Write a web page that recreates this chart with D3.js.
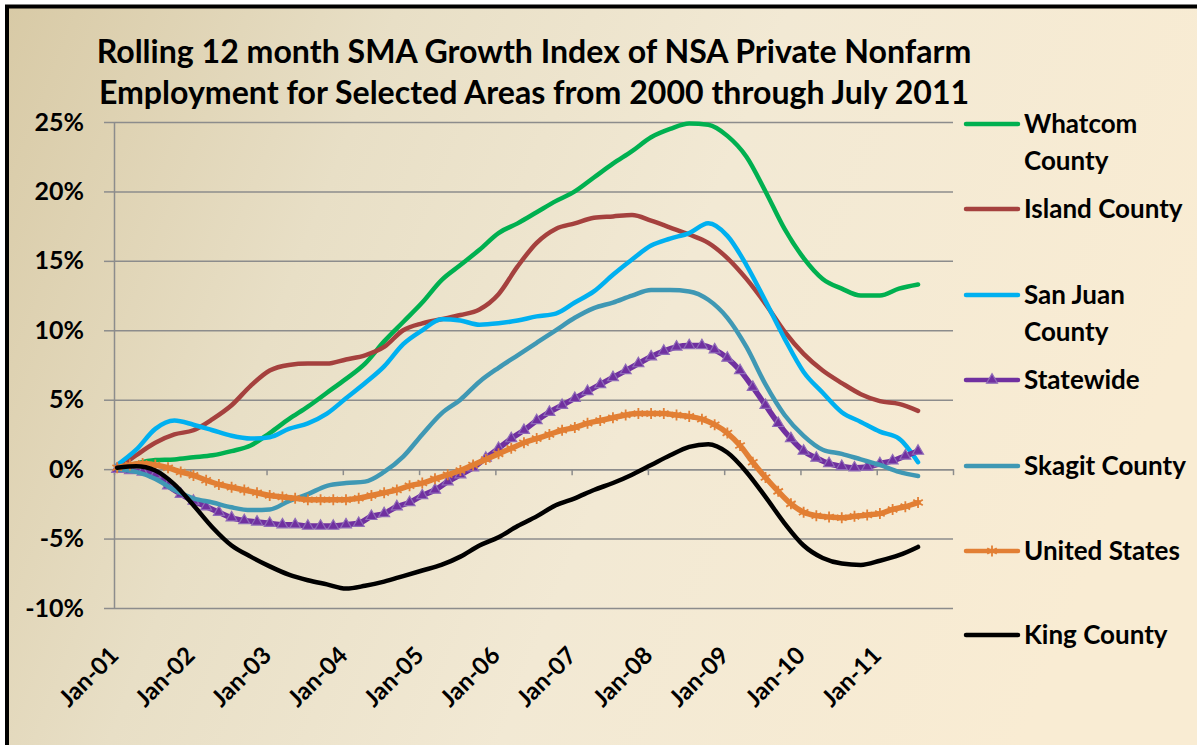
<!DOCTYPE html>
<html>
<head>
<meta charset="utf-8">
<script src="https://cdn.jsdelivr.net/npm/d3@7"></script>
<style>
  html, body { margin: 0; padding: 0; background: #fff; }
  #vis svg { display: block; }
</style>
</head>
<body>
<div id="vis"></div>
<script>
// months counted from Jan-01; plain lines read every quarter, marker lines every 2 months
var monthsQ = [0,3,6,9,12,15,18,21,24,27,30,33,36,39,42,45,48,51,54,57,60,63,66,69,72,75,78,81,84,87,90,93,96,99,102,105,108,111,114,117,120,123,126];
var monthsB = [0,2,4,6,8,10,12,14,16,18,20,22,24,26,28,30,32,34,36,38,40,42,44,46,48,50,52,54,56,58,60,62,64,66,68,70,72,74,76,78,80,82,84,86,88,90,92,94,96,98,100,102,104,106,108,110,112,114,116,118,120,122,124,126];

var whatcom = [0,0.4,0.65,0.7,0.85,1.0,1.3,1.7,2.6,3.6,4.5,5.5,6.5,7.6,9.2,10.6,12.0,13.6,14.7,15.8,17.0,17.7,18.5,19.3,20.0,21.0,22.0,22.9,23.9,24.5,24.9,24.8,24.0,22.5,20.0,17.3,15.2,13.7,13.0,12.5,12.5,13.0,13.3];
var island = [0,1.0,1.9,2.5,2.8,3.6,4.6,6.0,7.1,7.5,7.6,7.6,7.9,8.2,8.8,10.0,10.5,10.8,11.1,11.5,12.6,14.6,16.3,17.3,17.7,18.1,18.2,18.3,17.9,17.4,16.9,16.3,15.2,13.7,11.9,9.9,8.3,7.1,6.2,5.4,4.9,4.7,4.2];
var sanJuan = [0.3,1.4,2.9,3.5,3.2,2.8,2.4,2.2,2.3,2.9,3.3,4.0,5.1,6.2,7.4,9.0,10.0,10.8,10.7,10.4,10.5,10.7,11.0,11.2,12.0,12.8,14.0,15.1,16.1,16.6,17.0,17.7,16.8,14.7,12.1,9.4,7.0,5.5,4.1,3.4,2.7,2.2,0.5];
var skagit = [0,-0.2,-0.7,-1.5,-2.1,-2.4,-2.75,-2.95,-2.9,-2.3,-1.8,-1.2,-1.0,-0.9,-0.2,0.9,2.5,4.0,5.0,6.3,7.3,8.2,9.1,10.0,10.9,11.6,12.0,12.5,12.9,12.9,12.8,12.2,10.9,8.8,6.1,3.9,2.4,1.4,1.1,0.7,0.3,-0.2,-0.5];
var king = [0.1,0.2,-0.1,-1.1,-2.6,-4.2,-5.5,-6.3,-7.0,-7.6,-8.0,-8.3,-8.6,-8.4,-8.1,-7.7,-7.3,-6.9,-6.3,-5.5,-4.9,-4.1,-3.4,-2.6,-2.1,-1.5,-1.0,-0.4,0.3,1.0,1.6,1.8,1.2,-0.2,-2.0,-3.9,-5.5,-6.4,-6.8,-6.9,-6.6,-6.2,-5.6];
var statewide = [0,-0.1,-0.2,-0.4,-1.2,-1.8,-2.3,-2.7,-3.1,-3.5,-3.7,-3.8,-3.9,-4.0,-4.0,-4.1,-4.1,-4.1,-4.0,-3.9,-3.4,-3.2,-2.7,-2.4,-1.9,-1.5,-0.9,-0.4,0.1,0.8,1.5,2.2,2.8,3.5,4.1,4.6,5.1,5.6,6.1,6.6,7.1,7.6,8.1,8.5,8.8,8.9,8.9,8.6,8.0,7.1,5.9,4.6,3.3,2.2,1.3,0.8,0.4,0.2,0.1,0.15,0.4,0.6,0.95,1.3];
var unitedStates = [0.1,0.3,0.4,0.3,0.1,-0.2,-0.45,-0.8,-1.1,-1.3,-1.5,-1.7,-1.9,-2.0,-2.1,-2.2,-2.2,-2.2,-2.2,-2.1,-1.9,-1.7,-1.5,-1.2,-1.0,-0.7,-0.4,-0.1,0.3,0.7,1.1,1.5,1.9,2.2,2.5,2.8,3.0,3.3,3.5,3.7,3.9,4.0,4.0,4.0,3.9,3.8,3.6,3.2,2.6,1.7,0.5,-0.6,-1.6,-2.5,-3.1,-3.35,-3.45,-3.5,-3.4,-3.3,-3.2,-2.9,-2.7,-2.4];

var yTicks = [25, 20, 15, 10, 5, 0, -5, -10];
var yearTicks = [0,12,24,36,48,60,72,84,96,108,120,132];
var yearLabels = ["Jan-01","Jan-02","Jan-03","Jan-04","Jan-05","Jan-06","Jan-07","Jan-08","Jan-09","Jan-10","Jan-11"];
var titleLines = ["Rolling 12 month SMA Growth Index of NSA Private Nonfarm",
                  "Employment for Selected Areas from 2000 through July 2011"];

function draw() {
  var width = 1197, height = 745;
  var font = "Lato, 'Open Sans', sans-serif";

  // drawing order follows the legend, King County ends up on top
  var series = [
    {"name": ["Whatcom", "County"], "months": monthsQ, "values": whatcom, "color": "#00b050", "ly": 124},
    {"name": ["Island County"], "months": monthsQ, "values": island, "color": "#a5413e", "ly": 209},
    {"name": ["San Juan", "County"], "months": monthsQ, "values": sanJuan, "color": "#00b0f0", "ly": 295},
    {"name": ["Statewide"], "months": monthsB, "values": statewide, "color": "#7030a0", "marker": "tri", "ly": 380},
    {"name": ["Skagit County"], "months": monthsQ, "values": skagit, "color": "#3f98b4", "ly": 466},
    {"name": ["United States"], "months": monthsB, "values": unitedStates, "color": "#e27f34", "marker": "star", "ly": 551},
    {"name": ["King County"], "months": monthsQ, "values": king, "color": "#000000", "ly": 635}
  ];

  var svg = d3.select("#vis").append("svg")
              .attr("width", width)
              .attr("height", height);

  var grad = svg.append("defs").append("linearGradient")
                .attr("id", "bg")
                .attr("x1", 0).attr("y1", 0)
                .attr("x2", 1).attr("y2", 0.25);
  grad.append("stop").attr("offset", "0%").attr("stop-color", "#d8caa6");
  grad.append("stop").attr("offset", "30%").attr("stop-color", "#e8dfc6");
  grad.append("stop").attr("offset", "60%").attr("stop-color", "#f2e9d4");
  grad.append("stop").attr("offset", "100%").attr("stop-color", "#f9ecd3");

  svg.append("rect")
     .attr("x", 7).attr("y", 6.5)
     .attr("width", 1230).attr("height", 780)
     .attr("fill", "url(#bg)")
     .attr("stroke", "#000")
     .attr("stroke-width", 4);

  var x = d3.scaleLinear().domain([0, 132]).range([114, 953]);
  var y = d3.scaleLinear().domain([-10, 25]).range([608, 122]);

  // horizontal grid
  svg.append("g")
     .attr("transform", "translate(114,0)")
     .call(d3.axisLeft(y).tickValues(yTicks).tickSize(-(953 - 114)).tickFormat(""))
     .call(function(g) {
       g.select(".domain").remove();
       g.selectAll("line").attr("stroke", "#8c8c8c").attr("stroke-width", 1.5);
     });

  // value axis with labels
  svg.append("g")
     .attr("transform", "translate(114,0)")
     .call(d3.axisLeft(y).tickValues(yTicks).tickSize(10).tickSizeOuter(0).tickPadding(20)
             .tickFormat(function(d) { return d + "%"; }))
     .call(function(g) {
       g.select(".domain").attr("stroke", "#8c8c8c").attr("stroke-width", 1.5);
       g.selectAll("line").attr("stroke", "#8c8c8c").attr("stroke-width", 1.5);
       g.selectAll("text")
        .attr("font-family", font)
        .attr("font-weight", "bold")
        .attr("font-size", 25)
        .attr("fill", "#000");
     });

  // category axis crosses at 0%
  svg.append("g")
     .attr("transform", "translate(0," + y(0) + ")")
     .call(d3.axisBottom(x).tickValues(yearTicks).tickSize(6).tickSizeOuter(0).tickFormat(""))
     .call(function(g) {
       g.select(".domain").attr("stroke", "#8c8c8c").attr("stroke-width", 1.5);
       g.selectAll("line").attr("stroke", "#8c8c8c").attr("stroke-width", 1.5);
     });

  svg.append("g").selectAll("text")
     .data(yearLabels)
     .enter().append("text")
     .attr("transform", function(d, i) {
       return "translate(" + (x(yearTicks[i] + 0.5) + 3) + ",657) rotate(-45)";
     })
     .attr("text-anchor", "end")
     .attr("font-family", font)
     .attr("font-weight", "bold")
     .attr("font-size", 24)
     .attr("fill", "#000")
     .text(function(d) { return d; });

  var line = d3.line()
               .x(function(d) { return x(d[0] + 0.5); })
               .y(function(d) { return y(d[1]); })
               .curve(d3.curveMonotoneX);

  var tri = d3.symbol().type(d3.symbolTriangle).size(52);
  var star = d3.symbol().type(d3.symbolAsterisk).size(85);

  series.forEach(function(s) {
    var pts = s.months.map(function(m, i) { return [m, s.values[i]]; });
    var g = svg.append("g");
    g.append("path")
     .attr("d", line(pts))
     .attr("fill", "none")
     .attr("stroke", s.color)
     .attr("stroke-width", s.marker ? 5.5 : 4.5)
     .attr("stroke-linejoin", "round")
     .attr("stroke-linecap", "round");
    if (s.marker == "tri") {
      g.selectAll("path.mk").data(pts).enter().append("path")
       .attr("class", "mk")
       .attr("d", tri)
       .attr("transform", function(d) { return "translate(" + x(d[0] + 0.5) + "," + y(d[1]) + ")"; })
       .attr("fill", s.color)
       .attr("stroke", "#8f6bb8")
       .attr("stroke-width", 1.2);
    }
    if (s.marker == "star") {
      g.selectAll("path.mk").data(pts).enter().append("path")
       .attr("class", "mk")
       .attr("d", star)
       .attr("transform", function(d) { return "translate(" + x(d[0] + 0.5) + "," + y(d[1]) + ")"; })
       .attr("fill", "none")
       .attr("stroke", s.color)
       .attr("stroke-width", 1.8);
    }

    // legend entry
    var lg = svg.append("g");
    lg.append("line")
      .attr("x1", 966).attr("x2", 1018)
      .attr("y1", s.ly).attr("y2", s.ly)
      .attr("stroke", s.color)
      .attr("stroke-width", 4.5)
      .attr("stroke-linecap", "round");
    if (s.marker == "tri") {
      lg.append("path").attr("d", tri)
        .attr("transform", "translate(992," + s.ly + ")")
        .attr("fill", s.color).attr("stroke", "#8f6bb8").attr("stroke-width", 1.2);
    }
    if (s.marker == "star") {
      lg.append("path").attr("d", star)
        .attr("transform", "translate(992," + s.ly + ")")
        .attr("fill", "none").attr("stroke", s.color).attr("stroke-width", 1.8);
    }
    var t = lg.append("text")
              .attr("x", 1024)
              .attr("y", s.ly)
              .attr("font-family", font)
              .attr("font-weight", "bold")
              .attr("font-size", 26)
              .attr("fill", "#000");
    s.name.forEach(function(n, i) {
      t.append("tspan")
       .attr("x", 1024)
       .attr("dy", i == 0 ? "0.36em" : 37)
       .text(n);
    });
  });

  // title, sized to the width it takes in the original
  var titleWidths = [875, 871];
  var titleBase = [63, 104];
  titleLines.forEach(function(txt, i) {
    var t = svg.append("text")
               .attr("x", 534)
               .attr("y", titleBase[i])
               .attr("text-anchor", "middle")
               .attr("font-family", font)
               .attr("font-weight", "bold")
               .attr("font-size", 28)
               .attr("fill", "#000")
               .text(txt);
    var w = t.node().getComputedTextLength();
    t.attr("font-size", 28 * titleWidths[i] / w);
  });
}

draw();
</script>
</body>
</html>
